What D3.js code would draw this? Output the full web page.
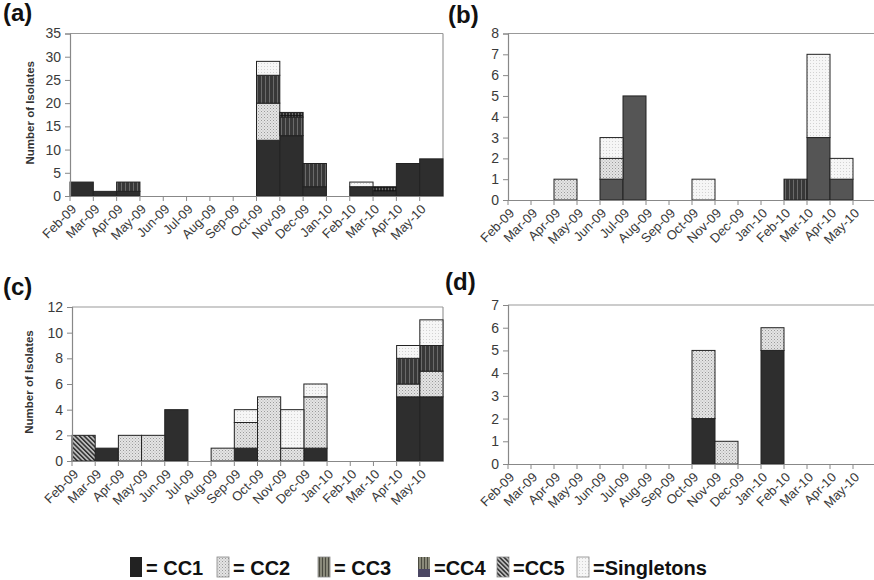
<!DOCTYPE html>
<html>
<head>
<meta charset="utf-8">
<script src="https://cdn.jsdelivr.net/npm/d3@7"></script>
<style>
  html, body { margin: 0; padding: 0; background: #fff; }
  svg { display: block; font-family: "Liberation Sans", Arial, sans-serif; }
</style>
</head>
<body>
<svg id="chart" width="874" height="580"></svg>
<script>
// ---------------- DATA ----------------
const months = ["Feb-09","Mar-09","Apr-09","May-09","Jun-09","Jul-09","Aug-09","Sep-09",
                "Oct-09","Nov-09","Dec-09","Jan-10","Feb-10","Mar-10","Apr-10","May-10"];
const seriesNames = ["CC1","CC2","CC3","CC4","CC5","Singletons"];

// Panel (a)
const aCC1 = [3,1,1,0,0,0,0,0,12,13,2,0,2,1,7,8];
const aCC2 = [0,0,0,0,0,0,0,0,8,0,0,0,0,0,0,0];
const aCC3 = [0,0,2,0,0,0,0,0,6,4,5,0,0,0,0,0];
const aCC4 = [0,0,0,0,0,0,0,0,0,1,0,0,0,1,0,0];
const aCC5 = [0,0,0,0,0,0,0,0,0,0,0,0,0,0,0,0];
const aSgl = [0,0,0,0,0,0,0,0,3,0,0,0,1,0,0,0];

// Panel (b)
const bCC1 = [0,0,0,0,1,5,0,0,0,0,0,0,0,3,1,0];
const bCC2 = [0,0,1,0,1,0,0,0,0,0,0,0,0,0,0,0];
const bCC3 = [0,0,0,0,0,0,0,0,0,0,0,0,1,0,0,0];
const bCC4 = [0,0,0,0,0,0,0,0,0,0,0,0,0,0,0,0];
const bCC5 = [0,0,0,0,0,0,0,0,0,0,0,0,0,0,0,0];
const bSgl = [0,0,0,0,1,0,0,0,1,0,0,0,0,4,1,0];

// Panel (c)
const cCC1 = [0,1,0,0,4,0,0,1,0,0,1,0,0,0,5,5];
const cCC2 = [0,0,2,2,0,0,1,2,5,1,4,0,0,0,1,2];
const cCC3 = [0,0,0,0,0,0,0,0,0,0,0,0,0,0,2,2];
const cCC4 = [0,0,0,0,0,0,0,0,0,0,0,0,0,0,0,0];
const cCC5 = [2,0,0,0,0,0,0,0,0,0,0,0,0,0,0,0];
const cSgl = [0,0,0,0,0,0,0,1,0,3,1,0,0,0,1,2];

// Panel (d)
const dCC1 = [0,0,0,0,0,0,0,0,2,0,0,5,0,0,0,0];
const dCC2 = [0,0,0,0,0,0,0,0,3,1,0,1,0,0,0,0];
const dCC3 = [0,0,0,0,0,0,0,0,0,0,0,0,0,0,0,0];
const dCC4 = [0,0,0,0,0,0,0,0,0,0,0,0,0,0,0,0];
const dCC5 = [0,0,0,0,0,0,0,0,0,0,0,0,0,0,0,0];
const dSgl = [0,0,0,0,0,0,0,0,0,0,0,0,0,0,0,0];

// y axis tick values
const aTicks = [0,5,10,15,20,25,30,35];
const bTicks = [0,1,2,3,4,5,6,7,8];
const cTicks = [0,2,4,6,8,10,12];
const dTicks = [0,1,2,3,4,5,6,7];

const yLabelText = "Number of Isolates";
const legendLabels = ["= CC1","= CC2","= CC3","=CC4","=CC5","=Singletons"];

// ---------------- BUILD ----------------
function table(arrs) {
  return months.map((m, i) => {
    const row = { month: m };
    seriesNames.forEach((s, k) => row[s] = arrs[k][i]);
    return row;
  });
}

const panels = [
  { id:"a", label:"(a)", lx:3, ly:21, data: table([aCC1,aCC2,aCC3,aCC4,aCC5,aSgl]), ticks:aTicks,
    x0:70, x1:443, yTop:33.5, yBot:196, ylab:true, ylabX:33, cc1:"#2e2e2e" },
  { id:"b", label:"(b)", lx:448, ly:23, data: table([bCC1,bCC2,bCC3,bCC4,bCC5,bSgl]), ticks:bTicks,
    x0:508, x1:876, yTop:33.5, yBot:200, ylab:false, cc1:"#555" },
  { id:"c", label:"(c)", lx:3, ly:295, data: table([cCC1,cCC2,cCC3,cCC4,cCC5,cSgl]), ticks:cTicks,
    x0:72, x1:443, yTop:307, yBot:461, ylab:true, ylabX:32, cc1:"#2e2e2e" },
  { id:"d", label:"(d)", lx:445, ly:290, data: table([dCC1,dCC2,dCC3,dCC4,dCC5,dSgl]), ticks:dTicks,
    x0:508, x1:876, yTop:305, yBot:464, ylab:false, cc1:"#2e2e2e" }
];

const svg = d3.select("#chart");
svg.append("rect").attr("width",874).attr("height",580).attr("fill","#fff");

// ---- patterns ----
const defs = svg.append("defs");
// CC2: light dotted
let p = defs.append("pattern").attr("id","pCC2").attr("patternUnits","userSpaceOnUse")
  .attr("width",3).attr("height",3);
p.append("rect").attr("width",3).attr("height",3).attr("fill","#e4e4e4");
p.append("rect").attr("x",0).attr("y",0).attr("width",1).attr("height",1).attr("fill","#9a9a9a");
p.append("rect").attr("x",1.5).attr("y",1.5).attr("width",1).attr("height",1).attr("fill","#b0b0b0");
// Singletons: very light dotted
p = defs.append("pattern").attr("id","pSgl").attr("patternUnits","userSpaceOnUse")
  .attr("width",3).attr("height",3);
p.append("rect").attr("width",3).attr("height",3).attr("fill","#f6f6f6");
p.append("rect").attr("x",0).attr("y",0).attr("width",1).attr("height",1).attr("fill","#d2d2d2");
// CC3: dark with vertical stripes
p = defs.append("pattern").attr("id","pCC3").attr("patternUnits","userSpaceOnUse")
  .attr("width",4).attr("height",4);
p.append("rect").attr("width",4).attr("height",4).attr("fill","#383838");
p.append("rect").attr("x",1).attr("width",1).attr("height",4).attr("fill","#6a6a6a");
// CC4: dark crosshatch
p = defs.append("pattern").attr("id","pCC4").attr("patternUnits","userSpaceOnUse")
  .attr("width",3).attr("height",3);
p.append("rect").attr("width",3).attr("height",3).attr("fill","#2a2a2a");
p.append("rect").attr("x",1).attr("width",1).attr("height",3).attr("fill","#6a6a6a");
p.append("rect").attr("y",1).attr("width",3).attr("height",0.8).attr("fill","#111");
// CC5: diagonal hatch "\\"
p = defs.append("pattern").attr("id","pCC5").attr("patternUnits","userSpaceOnUse")
  .attr("width",3.2).attr("height",3.2).attr("patternTransform","rotate(-45)");
p.append("rect").attr("width",3.2).attr("height",3.2).attr("fill","#bdbdbd");
p.append("rect").attr("width",1.5).attr("height",3.2).attr("fill","#2e2e2e");
// legend CC3 (medium gray stripes)
p = defs.append("pattern").attr("id","pLegCC3").attr("patternUnits","userSpaceOnUse")
  .attr("width",3).attr("height",3);
p.append("rect").attr("width",3).attr("height",3).attr("fill","#8a8a7a");
p.append("rect").attr("x",1).attr("width",1).attr("height",3).attr("fill","#4a4a40");

function fillFor(s, panel) {
  if (s === "CC1") return panel.cc1;
  if (s === "CC2") return "url(#pCC2)";
  if (s === "CC3") return "url(#pCC3)";
  if (s === "CC4") return "url(#pCC4)";
  if (s === "CC5") return "url(#pCC5)";
  return "url(#pSgl)";
}

const stack = d3.stack().keys(seriesNames);

panels.forEach(P => {
  const g = svg.append("g").attr("class","panel-" + P.id);
  const x = d3.scaleBand().domain(months).range([P.x0, P.x1]).padding(0);
  const yMax = P.ticks[P.ticks.length - 1];
  const y = d3.scaleLinear().domain([0, yMax]).range([P.yBot, P.yTop]);

  // frame: top & right
  g.append("line").attr("x1",P.x0).attr("x2",P.x1).attr("y1",y(yMax)).attr("y2",y(yMax))
    .attr("stroke","#999").attr("stroke-width",1.2);
  g.append("line").attr("x1",P.x1).attr("x2",P.x1).attr("y1",y(yMax)).attr("y2",y(0))
    .attr("stroke","#999").attr("stroke-width",1.2);

  // bars
  const layers = stack(P.data);
  layers.forEach(layer => {
    g.append("g").selectAll("rect")
      .data(layer.filter(d => d[1] - d[0] > 0))
      .join("rect")
      .attr("x", d => x(d.data.month))
      .attr("width", x.bandwidth())
      .attr("y", d => y(d[1]))
      .attr("height", d => y(d[0]) - y(d[1]))
      .attr("fill", fillFor(layer.key, P))
      .attr("stroke", "#222")
      .attr("stroke-width", 1);
  });

  // y axis
  const yAxis = d3.axisLeft(y).tickValues(P.ticks).tickSize(5).tickPadding(4).tickFormat(d3.format("d"));
  const ya = g.append("g").attr("transform", `translate(${P.x0},0)`).call(yAxis);
  ya.select(".domain").attr("stroke","#888").attr("stroke-width",1.2);
  ya.selectAll(".tick line").attr("stroke","#888");
  ya.selectAll(".tick text").attr("font-size",14).attr("fill","#3a3a3a")
    .attr("font-family","'Liberation Sans', Arial, sans-serif");

  // x axis : ticks at left edge of each category; labels at the tick
  const xAxis = d3.axisBottom(x).tickSize(0).tickFormat("");
  const xa = g.append("g").attr("transform", `translate(0,${P.yBot})`).call(xAxis);
  xa.select(".domain").attr("stroke","#888").attr("stroke-width",1.2);
  const tg = g.append("g");
  tg.selectAll("line").data(months).join("line")
    .attr("x1", d => x(d)).attr("x2", d => x(d))
    .attr("y1", P.yBot).attr("y2", P.yBot + 5)
    .attr("stroke","#888");
  tg.selectAll("text").data(months).join("text")
    .attr("transform", d => `translate(${x(d) + 7},${P.yBot + 14}) rotate(-45)`)
    .attr("text-anchor","end")
    .attr("font-size",13)
    .attr("fill","#3a3a3a")
    .text(d => d);

  // y label
  if (P.ylab) {
    g.append("text")
      .attr("transform", `translate(${P.ylabX + 1},${(P.yTop + P.yBot)/2 - 2}) rotate(-90)`)
      .attr("text-anchor","middle")
      .attr("font-size",11.5).attr("font-weight","bold").attr("fill","#333")
      .text(yLabelText);
  }

  // panel label
  svg.append("text").attr("x",P.lx).attr("y",P.ly)
    .attr("font-size",24).attr("font-weight","bold").attr("fill","#111")
    .text(P.label);
});

// ---------------- LEGEND ----------------
const legX = [130, 217, 318, 418, 497, 577];
const lg = svg.append("g").attr("class","legend");
seriesNames.forEach((s, i) => {
  const sx = legX[i], sy = 557, sw = 12, sh = 20;
  if (s === "CC4") {
    lg.append("rect").attr("x",sx).attr("y",sy).attr("width",sw).attr("height",sh*0.6)
      .attr("fill","url(#pLegCC3)");
    lg.append("rect").attr("x",sx).attr("y",sy + sh*0.6).attr("width",sw).attr("height",sh*0.4)
      .attr("fill","#4b4763");
  } else {
    const f = s === "CC1" ? "#222" : s === "CC2" ? "url(#pCC2)" : s === "CC3" ? "url(#pLegCC3)"
            : s === "CC5" ? "url(#pCC5)" : "url(#pSgl)";
    lg.append("rect").attr("x",sx).attr("y",sy).attr("width",sw).attr("height",sh).attr("fill",f)
      .attr("stroke", s === "CC1" ? "none" : "#888").attr("stroke-width",0.8);
  }
  lg.append("text").attr("x", sx + sw + 4).attr("y", 575)
    .attr("font-size",20).attr("font-weight","bold").attr("fill","#111")
    .text(legendLabels[i]);
});
</script>
</body>
</html>
